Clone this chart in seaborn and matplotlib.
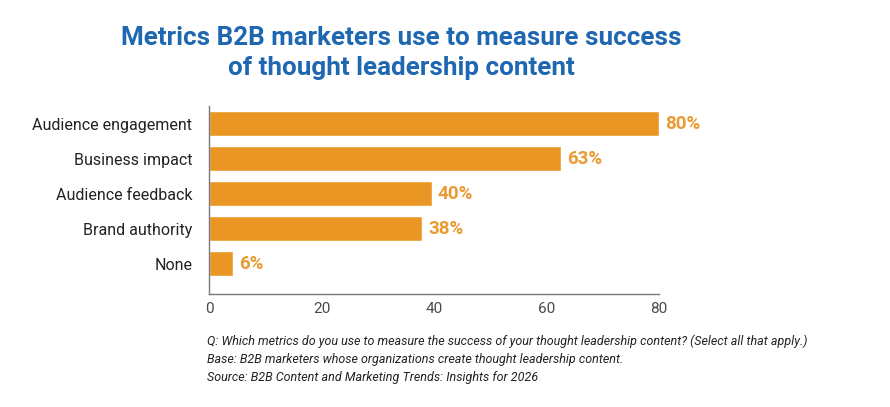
import pandas as pd
import seaborn as sns
import matplotlib.pyplot as plt

# values
categories = ["Audience engagement", "Business impact", "Audience feedback",
              "Brand authority", "None"]
bar_values = [80, 62.5, 39.6, 37.9, 4.2]
value_labels = ["80%", "63%", "40%", "38%", "6%"]
x_ticks = [0, 20, 40, 60, 80]

title = "Metrics B2B marketers use to measure success\nof thought leadership content"
notes = [
    "Q: Which metrics do you use to measure the success of your thought leadership content? (Select all that apply.)",
    "Base: B2B marketers whose organizations create thought leadership content.",
    "Source: B2B Content and Marketing Trends: Insights for 2026",
]

ORANGE = "#E99625"
LABEL_ORANGE = "#EA9A33"
BLUE = "#1F67B1"
GREY = "#7a7a7a"

sns.set_theme(style="white")
plt.rcParams["font.family"] = ["Roboto", "DejaVu Sans"]

df = pd.DataFrame({"metric": categories, "value": bar_values})

fig = plt.figure(figsize=(8.9, 4.07), dpi=100)
ax = fig.add_axes([209 / 890, 1 - 294 / 407, 450 / 890, 188 / 407])

sns.barplot(data=df, x="value", y="metric", color=ORANGE, saturation=1,
            width=0.71, ax=ax)

for i, (v, lab) in enumerate(zip(bar_values, value_labels)):
    ax.text(v + 1.1, i, lab, va="center", ha="left", color=LABEL_ORANGE,
            fontsize=13.5, fontweight="bold")

ax.set_xlim(0, 80)
ax.set_ylim(4.87, -0.5)
ax.set_xticks(x_ticks)
ax.set_xlabel("")
ax.set_ylabel("")
ax.tick_params(axis="x", direction="in", length=6, width=1, color=GREY,
               labelsize=11, labelcolor="#4a4a4a", pad=6)
ax.tick_params(axis="y", length=0, labelsize=11.5, labelcolor="#222222", pad=12)

for side in ["top", "right"]:
    ax.spines[side].set_visible(False)
for side in ["left", "bottom"]:
    ax.spines[side].set_color(GREY)
    ax.spines[side].set_linewidth(1)

fig.text(401 / 890, 1 - 53 / 407, title, ha="center", va="center",
         color=BLUE, fontsize=18.7, fontweight="bold", linespacing=1.32)

for k, line in enumerate(notes):
    fig.text(207 / 890, 1 - (341 + k * 18.5) / 407, line, ha="left", va="center",
             fontsize=9.0, style="italic", color="#222222")

fig.savefig("out.png", dpi=100, facecolor="white")
